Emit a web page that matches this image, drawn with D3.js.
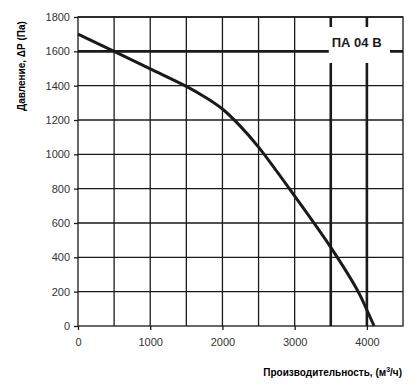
<!DOCTYPE html>
<html>
<head>
<meta charset="utf-8">
<script src="https://cdn.jsdelivr.net/npm/d3@7"></script>
<style>
  body { margin: 0; background: #fff; }
  text { font-family: "Liberation Sans", Arial, sans-serif; }
</style>
</head>
<body>
<div id="chart"></div>
<script>
/* Fan curve: pressure vs flow */

// data
var flowTicks = [0, 1000, 2000, 3000, 4000];
var flowGrid = [500, 1000, 1500, 2000, 2500, 3000, 3500, 4000];
var pressureTicks = [0, 200, 400, 600, 800, 1000, 1200, 1400, 1600, 1800];
var curveFlow = [0, 500, 1000, 1500, 1750, 2000, 2250, 2500, 3000, 3500, 3880, 4000, 4100];
var curvePressure = [1700, 1600, 1498, 1396, 1336, 1264, 1163, 1042, 757, 458, 200, 93, 0];
var markerFlow = [3500, 4000];
var markerPressure = [1600];
var modelLabel = "ПА 04 В";

var width = 420, height = 386,
    margin = {top: 17, right: 17, bottom: 60, left: 78};

var svg = d3.select("#chart").append("svg")
    .attr("width", width)
    .attr("height", height);

var x = d3.scaleLinear().domain([0, 4500]).range([margin.left, width - margin.right]);
var y = d3.scaleLinear().domain([0, 1800]).range([height - margin.bottom, margin.top]);

var g = svg.append("g");

// grid
g.selectAll(".vgrid").data(flowGrid).enter().append("line")
    .attr("x1", d => x(d)).attr("x2", d => x(d))
    .attr("y1", y(0)).attr("y2", y(1800))
    .attr("stroke", "#1a1a1a").attr("stroke-width", 1.3);
g.selectAll(".hgrid").data(pressureTicks.slice(1)).enter().append("line")
    .attr("x1", x(0)).attr("x2", x(4500))
    .attr("y1", d => y(d)).attr("y2", d => y(d))
    .attr("stroke", "#1a1a1a").attr("stroke-width", 1.3);

// frame
g.append("rect")
    .attr("x", x(0)).attr("y", y(1800))
    .attr("width", x(4500) - x(0)).attr("height", y(0) - y(1800))
    .attr("fill", "none").attr("stroke", "#1a1a1a").attr("stroke-width", 1.3);

// thick marker lines
g.selectAll(".vmark").data(markerFlow).enter().append("line")
    .attr("x1", d => x(d)).attr("x2", d => x(d))
    .attr("y1", y(0)).attr("y2", y(1800))
    .attr("stroke", "#1a1a1a").attr("stroke-width", 2.6);
g.selectAll(".hmark").data(markerPressure).enter().append("line")
    .attr("x1", x(0)).attr("x2", x(4500))
    .attr("y1", d => y(d)).attr("y2", d => y(d))
    .attr("stroke", "#1a1a1a").attr("stroke-width", 2.6);

// label box
g.append("rect")
    .attr("x", x(3500) - 2).attr("y", 27)
    .attr("width", x(4500) - x(3500) - 11).attr("height", 36)
    .attr("fill", "#fff");
g.append("text")
    .attr("x", x(3500) + 1).attr("y", 47)
    .attr("font-size", 13).attr("font-weight", "bold")
    .attr("fill", "#1a1a1a")
    .text(modelLabel);

// curve
var line = d3.line()
    .x(function(d, i) { return x(curveFlow[i]); })
    .y(function(d, i) { return y(curvePressure[i]); })
    .curve(d3.curveCatmullRom.alpha(0.5));
g.append("path")
    .datum(curveFlow)
    .attr("d", line)
    .attr("fill", "none")
    .attr("stroke", "#1a1a1a")
    .attr("stroke-width", 3);

// axes
var yAxis = svg.append("g")
    .attr("transform", "translate(" + x(0) + ",0)")
    .call(d3.axisLeft(y).tickValues(pressureTicks).tickFormat(d3.format("d")).tickSize(4).tickPadding(4));
var xAxis = svg.append("g")
    .attr("transform", "translate(0," + y(0) + ")")
    .call(d3.axisBottom(x).tickValues(flowTicks).tickFormat(d3.format("d")).tickSize(4).tickPadding(8));
[xAxis, yAxis].forEach(function(a) {
    a.select(".domain").remove();
    a.selectAll(".tick line").attr("stroke", "#1a1a1a").attr("stroke-width", 1.3);
    a.selectAll(".tick text").attr("font-size", 11).attr("fill", "#333")
        .attr("font-family", "'Liberation Sans', Arial, sans-serif");
});

// axis titles
svg.append("text")
    .attr("transform", "translate(25," + 66 + ") rotate(-90)")
    .attr("text-anchor", "middle")
    .attr("font-size", 10).attr("font-weight", "bold")
    .text("Давление, ΔР (Па)");

var xt = svg.append("text")
    .attr("x", 402).attr("y", 376)
    .attr("text-anchor", "end")
    .attr("font-size", 10).attr("font-weight", "bold");
xt.append("tspan").text("Производительность, (м");
xt.append("tspan").attr("font-size", 7).attr("dy", -4).text("3");
xt.append("tspan").attr("dy", 4).text("/ч)");
</script>
</body>
</html>
